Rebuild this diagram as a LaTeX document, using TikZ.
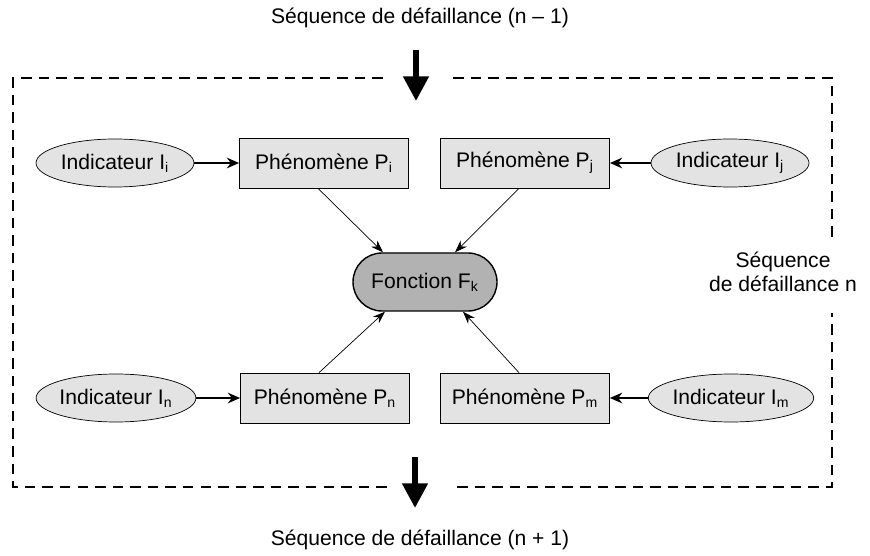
\documentclass[tikz,border=0pt]{standalone}
\usepackage{fontspec}
\setmainfont{Liberation Sans}
\usetikzlibrary{shapes.geometric,arrows.meta}

\begin{document}
\begin{tikzpicture}[
    font=\fontsize{12}{14}\selectfont,
    phenbox/.style={draw, fill=gray!22, minimum width=3.38cm, minimum height=1.0cm, inner sep=1pt},
    indic/.style={draw, ellipse, fill=gray!22, minimum width=3.16cm, minimum height=0.96cm, inner sep=0pt},
    fonct/.style={draw, fill=gray!60, rounded corners=0.58cm, minimum width=2.88cm, minimum height=1.16cm, thick},
    frame/.style={thick, dash pattern=on 6pt off 4pt},
    feed/.style={line width=1.6pt, -{Stealth[length=7pt,width=6pt]}},
    link/.style={thin, -{Stealth[length=7pt,width=5pt]}},
    seq/.style={line width=3.2pt, -{Triangle[length=14pt,width=14pt]}}
]
        % Size of the picture
        \useasboundingbox (0,0) rectangle (17.4,-11.12);

        % Failure sequence n (dashed frame, open where the arrows and the label pass)
        \def\xl{0.26}  \def\xr{16.64}
        \def\yt{-1.56} \def\yb{-9.74}
        \draw[frame] (7.66,\yt) -- (\xl,\yt) -- (\xl,\yb) -- (7.74,\yb);
        \draw[frame] (9.14,\yb) -- (\xr,\yb) -- (\xr,-6.26);
        \draw[frame] (\xr,-4.74) -- (\xr,\yt) -- (9.06,\yt);

        % Phenomena and their indicators
        \node[indic] (Ii) at (2.30,-3.26) {Indicateur I\textsubscript{i}};
        \node[phenbox] (Pi) at (6.48,-3.26) {Phénomène P\textsubscript{i}};
        \node[phenbox] (Pj) at (10.50,-3.26) {Phénomène P\textsubscript{j}};
        \node[indic] (Ij) at (14.60,-3.26) {Indicateur I\textsubscript{j}};

        \node[indic] (In) at (2.32,-7.96) {Indicateur I\textsubscript{n}};
        \node[phenbox] (Pn) at (6.50,-7.96) {Phénomène P\textsubscript{n}};
        \node[phenbox] (Pm) at (10.50,-7.96) {Phénomène P\textsubscript{m}};
        \node[indic] (Im) at (14.62,-7.96) {Indicateur I\textsubscript{m}};

        % Function
        \node[fonct] (F) at (8.50,-5.64) {Fonction F\textsubscript{k}};

        % Labels
        \node (seqPrev) at (8.40,-0.36) {Séquence de défaillance (n -- 1)};
        \node (seqNext) at (8.40,-10.80) {Séquence de défaillance (n + 1)};
        \node[align=center] (seqN) at (15.66,-5.44) {Séquence\\de défaillance n};

        % Indicators point to their phenomenon
        \foreach \i/\p in {Ii/Pi, Ij/Pj, In/Pn, Im/Pm} {
            \draw[feed] (\i) -- (\p);
        }

        % Phenomena act on the function
        \foreach \p/\pa/\fa/\dx in {Pi/south/north/-0.84, Pj/south/north/0.60, Pn/north/south/-0.80, Pm/north/south/0.76} {
            \draw[link] ([xshift=-0.12cm]\p.\pa) -- ([xshift=\dx cm]F.\fa);
        }

        % Passage from one sequence to the next
        \coordinate (inA) at (8.32,-1.00);
        \coordinate (inB) at (8.32,-2.02);
        \coordinate (outA) at (8.30,-9.14);
        \coordinate (outB) at (8.30,-10.16);
        \draw[seq] (inA) -- (inB);
        \draw[seq] (outA) -- (outB);
    \end{tikzpicture}
\end{document}
